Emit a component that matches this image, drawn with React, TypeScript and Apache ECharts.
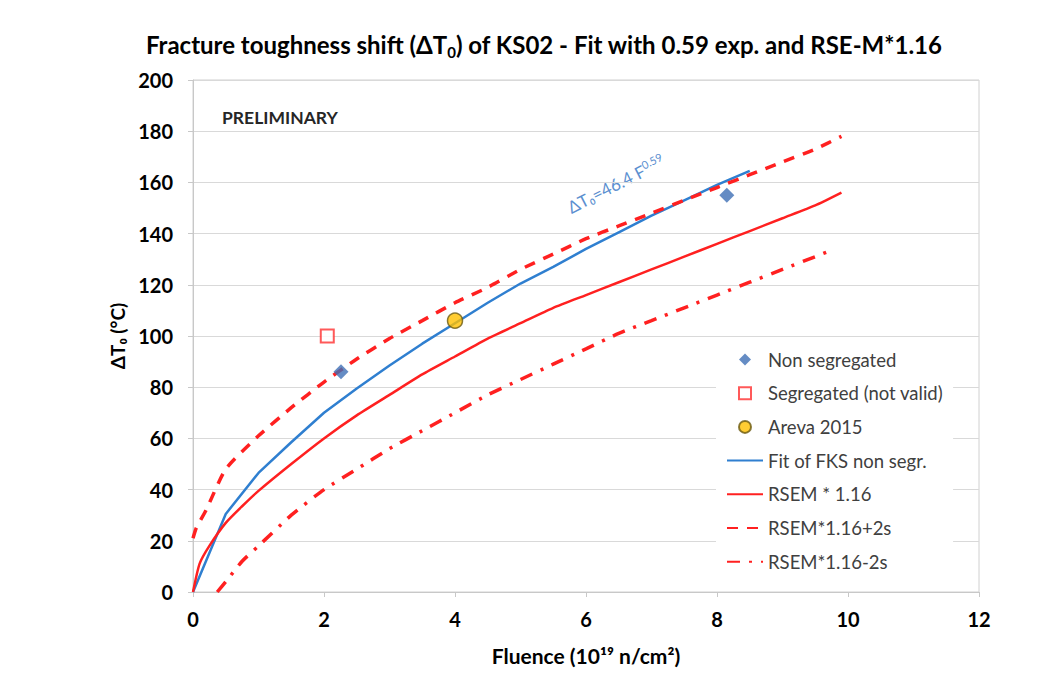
import React, { useEffect, useRef } from "react";
import * as echarts from "echarts";

const FONT = "Lato, 'Noto Sans', sans-serif";

const xTicks = [0, 2, 4, 6, 8, 10, 12];
const yTicks = [0, 20, 40, 60, 80, 100, 120, 140, 160, 180, 200];

const nonSegX = [2.26, 8.15];
const nonSegY = [86, 155];
const segX = [2.05];
const segY = [100];
const arevaX = [4.0];
const arevaY = [106];

const fitX = [0, 0.5, 1, 1.5, 2, 2.5, 3, 3.5, 4, 4.5, 5, 5.5, 6, 6.5, 7, 7.5, 8, 8.5];
const fitY = [0, 30.5, 46.5, 58.5, 70, 79.5, 88.5, 97, 105, 113, 120.5, 127, 134, 140.5, 147, 153, 159, 164.5];

const rsemX = [0, 0.1, 0.25, 0.5, 0.75, 1, 1.5, 2, 2.5, 3, 3.5, 4, 4.5, 5, 5.5, 6, 6.5, 7, 7.5, 8, 8.5, 9, 9.5, 9.9];
const rsemY = [0, 11, 18, 27, 33.5, 39.5, 50, 60, 69, 77, 85, 92, 99, 105, 111, 116, 121, 126, 131, 136, 141, 146, 151, 156];

const upX = [0, 0.05, 0.2, 0.5, 1, 1.5, 2, 2.5, 3, 3.5, 4, 4.5, 5, 5.5, 6, 6.5, 7, 7.5, 8, 8.5, 9, 9.5, 9.9];
const upY = [21, 25, 32, 48, 61, 72, 82, 91, 99, 106, 113, 119, 126, 132, 138, 143, 148, 153, 158, 163, 168, 173, 178];

const lowX = [0.37, 0.5, 0.75, 1, 1.5, 2, 2.5, 3, 3.5, 4, 4.5, 5, 5.5, 6, 6.5, 7, 7.5, 8, 8.5, 9, 9.5, 9.7];
const lowY = [0, 4, 12, 18, 30, 40, 48, 56, 63, 70, 77, 83, 89, 95, 101, 106, 111, 116, 121, 126, 131, 133];

const seriesNames = [
  "Non segregated",
  "Segregated (not valid)",
  "Areva 2015",
  "Fit of FKS non segr.",
  "RSEM * 1.16",
  "RSEM*1.16+2s",
  "RSEM*1.16-2s",
];

const zip = (xs: number[], ys: number[]) => xs.map((x, i) => [x, ys[i]]);

const ICON_DIAMOND = "path://M0,-1L1,0L0,1L-1,0Z";
const ICON_SQUARE = "path://M0,0L1,0L1,1L0,1Z";
const ICON_CIRCLE = "path://M1,0A1,1,0,1,1,-1,0A1,1,0,1,1,1,0Z";

export default function App() {
  const ref = useRef<HTMLDivElement>(null);
  useEffect(() => {
    document.body.style.margin = "0";
    const chart = echarts.init(ref.current!, undefined, { renderer: "svg" });
    const red = "#ff2020";
    const lineBase = { type: "line", symbol: "none", showSymbol: false, smooth: 0.2, z: 2 };
    const legendText = { fontFamily: FONT, fontSize: 18.5, color: "#404040", lineHeight: 18 };
    chart.setOption({
      animation: false,
      backgroundColor: "#ffffff",
      textStyle: { fontFamily: FONT },
      title: {
        left: 141,
        top: 24,
        text: "{a|Fracture toughness shift (ΔT}{s|0}{a|) of KS02 - Fit with 0.59 exp. and RSE-M*1.16}",
        textStyle: {
          rich: {
            a: { fontFamily: FONT, fontSize: 24, fontWeight: "bold", color: "#000", lineHeight: 30 },
            s: { fontFamily: FONT, fontSize: 15, fontWeight: "bold", color: "#000", verticalAlign: "bottom", lineHeight: 30 },
          },
        },
      },
      grid: { left: 193, right: 85, top: 80, bottom: 105, show: true, borderColor: "#d0d0d0", borderWidth: 1 },
      xAxis: {
        type: "value",
        min: xTicks[0],
        max: xTicks[xTicks.length - 1],
        interval: 2,
        name: "Fluence (10¹⁹ n/cm²)",
        nameLocation: "middle",
        nameGap: 53,
        nameTextStyle: { fontFamily: FONT, fontSize: 21, fontWeight: "bold", color: "#000" },
        axisLine: { show: true, lineStyle: { color: "#c8c8c8", width: 1 } },
        axisTick: { show: true, length: 5, lineStyle: { color: "#c8c8c8" } },
        axisLabel: { margin: 17, fontFamily: FONT, fontSize: 20, fontWeight: "bold", color: "#000" },
        splitLine: { show: false },
      },
      yAxis: {
        type: "value",
        min: yTicks[0],
        max: yTicks[yTicks.length - 1],
        interval: 20,
        name: "ΔT₀ (°C)",
        nameLocation: "middle",
        nameGap: 40,
        nameTextStyle: { fontFamily: FONT, fontSize: 19, fontWeight: "bold", color: "#000" },
        axisLine: { show: true, lineStyle: { color: "#c8c8c8", width: 1 } },
        axisTick: { show: true, length: 5, lineStyle: { color: "#c8c8c8" } },
        axisLabel: { margin: 20, fontFamily: FONT, fontSize: 20, fontWeight: "bold", color: "#000" },
        splitLine: { show: true, lineStyle: { color: "#d9d9d9", width: 1 } },
      },
      legend: {
        orient: "vertical",
        left: 716,
        top: 344,
        padding: [6, 10, 6, 10],
        backgroundColor: "#ffffff",
        itemWidth: 36,
        itemHeight: 12,
        itemGap: 14.7,
        symbolKeepAspect: true,
        data: [
          { name: seriesNames[0], icon: ICON_DIAMOND },
          { name: seriesNames[1], icon: ICON_SQUARE },
          { name: seriesNames[2], icon: ICON_CIRCLE },
          { name: seriesNames[3], itemStyle: { opacity: 0 } },
          { name: seriesNames[4], itemStyle: { opacity: 0 } },
          { name: seriesNames[5], itemStyle: { opacity: 0 } },
          { name: seriesNames[6], itemStyle: { opacity: 0 } },
        ],
        textStyle: legendText,
      },
      graphic: [
        {
          type: "text",
          left: 222,
          top: 108,
          style: { text: "PRELIMINARY", fontFamily: FONT, fontSize: 17.5, fontWeight: "bold", fill: "#262626" },
        },
        {
          type: "text",
          x: 616,
          y: 184,
          rotation: 0.47,
          style: {
            text: "{b|ΔT₀=46.4 F}{p|0.59}",
            align: "center",
            verticalAlign: "middle",
            rich: {
              b: { fontFamily: FONT, fontSize: 17, fill: "#5b8fd0", lineHeight: 20 },
              p: { fontFamily: FONT, fontSize: 11, fill: "#5b8fd0", verticalAlign: "top", lineHeight: 20 },
            },
          },
        },
      ],
      series: [
        {
          name: seriesNames[0],
          type: "scatter",
          symbol: "diamond",
          symbolSize: 15,
          z: 5,
          itemStyle: { color: "#3f6fb5" },
          data: zip(nonSegX, nonSegY),
        },
        {
          name: seriesNames[1],
          type: "scatter",
          symbol: "rect",
          symbolSize: 13,
          z: 5,
          itemStyle: { color: "#ffffff", borderColor: "#ff3030", borderWidth: 2 },
          data: zip(segX, segY),
        },
        {
          name: seriesNames[2],
          type: "scatter",
          symbol: "circle",
          symbolSize: 15,
          z: 5,
          itemStyle: { color: "#ffc000", borderColor: "#6b5a10", borderWidth: 1.5 },
          data: zip(arevaX, arevaY),
        },
        {
          ...lineBase,
          name: seriesNames[3],
          smooth: 0,
          itemStyle: { color: "#2f7fd0" },
          lineStyle: { color: "#2f7fd0", width: 2.5 },
          data: zip(fitX, fitY),
        },
        {
          ...lineBase,
          name: seriesNames[4],
          itemStyle: { color: red },
          lineStyle: { color: red, width: 2.5 },
          data: zip(rsemX, rsemY),
        },
        {
          ...lineBase,
          name: seriesNames[5],
          itemStyle: { color: red },
          lineStyle: { color: red, width: 3.5, type: [11, 9] },
          data: zip(upX, upY),
        },
        {
          ...lineBase,
          name: seriesNames[6],
          itemStyle: { color: red },
          lineStyle: { color: red, width: 3.5, type: [13, 9, 3, 9] },
          data: zip(lowX, lowY),
        },
      ],
    });
    return () => chart.dispose();
  }, []);
  return <div ref={ref} style={{ width: 1064, height: 697, position: "absolute", left: 0, top: 0 }} />;
}
